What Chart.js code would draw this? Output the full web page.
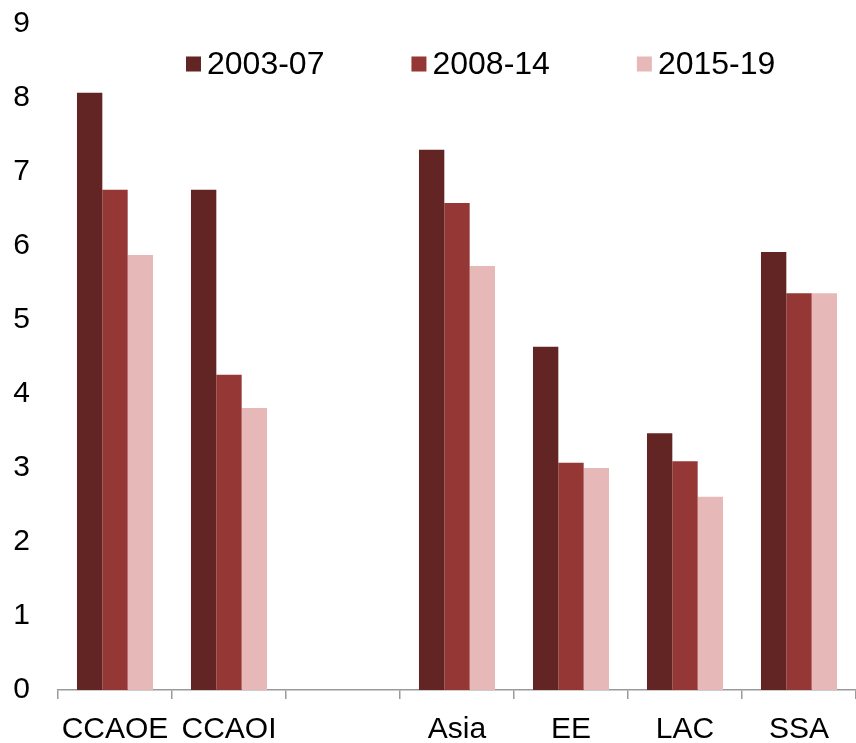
<!DOCTYPE html>
<html>
<head>
<meta charset="utf-8">
<script src="https://cdn.jsdelivr.net/npm/chart.js@4/dist/chart.umd.min.js"></script>
<style>
  html, body { margin: 0; padding: 0; background: #ffffff; }
  #wrap { width: 856px; height: 743px; }
</style>
</head>
<body>
<div id="wrap"><canvas id="c" width="856" height="743"></canvas></div>
<script>
const categories = ['CCAOE', 'CCAOI', '', 'Asia', 'EE', 'LAC', 'SSA'];
const seriesNames = ['2003-07', '2008-14', '2015-19'];
const s2003_07 = [8.07, 6.76, null, 7.30, 4.64, 3.47, 5.92];
const s2008_14 = [6.76, 4.26, null, 6.58, 3.07, 3.09, 5.36];
const s2015_19 = [5.88, 3.81, null, 5.73, 3.00, 2.61, 5.36];
const yTicks = [0, 1, 2, 3, 4, 5, 6, 7, 8, 9];
const colors = ['#632523', '#953735', '#E6B9B8'];

const FONT = '"Liberation Sans", Arial, sans-serif';

const legendPlugin = {
  id: 'insideLegend',
  afterDraw(chart) {
    const ctx = chart.ctx;
    ctx.save();
    ctx.font = '32px ' + FONT;
    ctx.textBaseline = 'middle';
    ctx.textAlign = 'left';
    let x = 186;
    const yMid = 64;
    chart.data.datasets.forEach((ds) => {
      ctx.fillStyle = ds.backgroundColor;
      ctx.fillRect(x, yMid - 7.5, 15, 15);
      ctx.fillStyle = '#000000';
      ctx.fillText(ds.label, x + 21, yMid + 1);
      x += 21 + ctx.measureText(ds.label).width + 87;
    });
    ctx.restore();
  }
};

new Chart(document.getElementById('c'), {
  type: 'bar',
  data: {
    labels: categories,
    datasets: [
      { label: seriesNames[0], data: s2003_07, backgroundColor: colors[0] },
      { label: seriesNames[1], data: s2008_14, backgroundColor: colors[1] },
      { label: seriesNames[2], data: s2015_19, backgroundColor: colors[2] }
    ]
  },
  options: {
    responsive: false,
    devicePixelRatio: 1,
    animation: false,
    layout: { padding: { left: 0, right: 0, top: 24, bottom: 0 } },
    datasets: {
      bar: { categoryPercentage: 0.667, barPercentage: 1.0, borderWidth: 0 }
    },
    plugins: {
      legend: { display: false },
      tooltip: { enabled: false }
    },
    scales: {
      x: {
        offset: true,
        grid: {
          display: true,
          offset: true,
          drawOnChartArea: false,
          drawTicks: true,
          tickLength: 9,
          color: '#9a9a9a',
          lineWidth: 1.5
        },
        border: { display: true, color: '#9a9a9a', width: 1.5 },
        ticks: {
          color: '#000000',
          font: { family: FONT, size: 30 },
          padding: 13,
          maxRotation: 0,
          autoSkip: false
        },
        afterFit(scale) { scale.height = 53; scale.paddingLeft = 0; scale.paddingRight = 0; }
      },
      y: {
        min: 0,
        max: 9,
        afterBuildTicks(scale) { scale.ticks = yTicks.map(v => ({ value: v })); },
        grid: { display: false, drawTicks: false },
        border: { display: false },
        ticks: {
          color: '#000000',
          font: { family: FONT, size: 30 },
          padding: 28
        },
        afterFit(scale) { scale.width = 58; scale.paddingTop = 0; scale.paddingBottom = 0; }
      }
    }
  },
  plugins: [legendPlugin]
});
</script>
</body>
</html>
